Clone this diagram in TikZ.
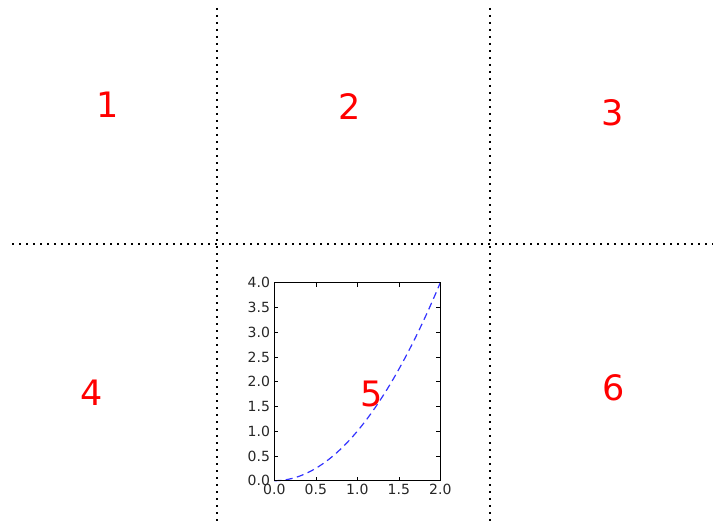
\documentclass[tikz,border=0pt]{standalone}
\usepackage{fontspec}
\setmainfont{DejaVu Sans}
\begin{document}
\begin{tikzpicture}[x=1pt,y=-1pt,
  sep/.style={line width=2pt,dash pattern=on 2pt off 5pt},
  num/.style={text=red,font=\fontsize{35}{35}\selectfont,inner sep=0pt},
  ticklab/.style={font=\fontsize{14}{14}\selectfont,text=black!85,inner sep=0pt},
  tick/.style={line width=0.6pt}]
\useasboundingbox (0,0) rectangle (713,527);
% separators
\coordinate (v1t) at (216.5,8); \coordinate (v1b) at (216.5,521);
\coordinate (v2t) at (490,8); \coordinate (v2b) at (490,525);
\coordinate (hl) at (12,243.5); \coordinate (hr) at (713,243.5);
\draw[sep] (v1t) -- (v1b);
\draw[sep] (v2t) -- (v2b);
\draw[sep] (hl) -- (hr);
% axes
\begin{scope}[shift={(274.3,480.7)},x=83pt,y=49.5pt]
  \fill[white] (0,0) rectangle (2,4);
  \draw[blue!80,line width=1.2pt,dash pattern=on 7pt off 4.5pt] plot[domain=0:2,samples=60] (\x,{\x*\x});
  \foreach \v in {0.0,0.5,1.0,1.5,2.0}{
    \draw[tick] (\v,0) -- ++(0,4pt);
    \draw[tick] (\v,4) -- ++(0,-4pt);
    \node[ticklab,anchor=north] (xl\v) at (\v,-0.07) {\v};
  }
  \foreach \v in {0.0,0.5,1.0,1.5,2.0,2.5,3.0,3.5,4.0}{
    \draw[tick] (0,\v) -- ++(4pt,0);
    \draw[tick] (2,\v) -- ++(-4pt,0);
    \node[ticklab,anchor=east] (yl\v) at (-0.05,\v) {\v};
  }
  \draw[line width=0.8pt] (0,0) rectangle (2,4);
\end{scope}
% labels
\node[num] (n1) at (108,105) {1};
\node[num] (n2) at (350,107) {2};
\node[num] (n3) at (613,113) {3};
\node[num] (n4) at (92,393) {4};
\node[num] (n5) at (372,394) {5};
\node[num] (n6) at (614,388) {6};
\end{tikzpicture}
\end{document}
